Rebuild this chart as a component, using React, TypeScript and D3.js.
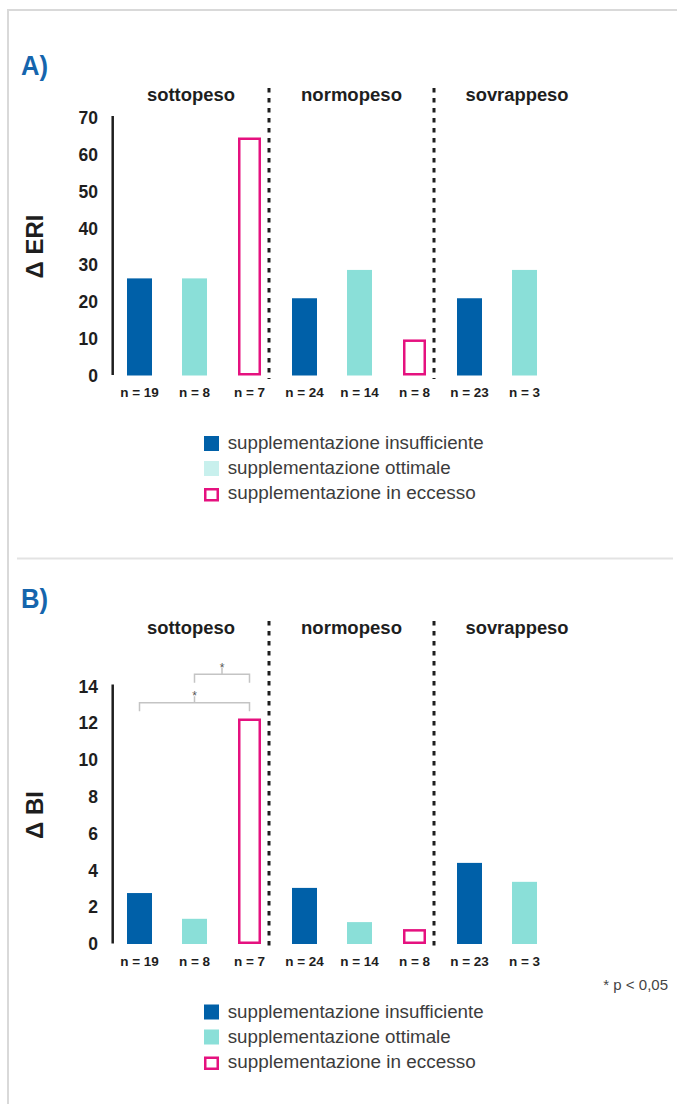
import React from "react";
import * as d3 from "d3";

const groups = ["sottopeso", "normopeso", "sovrappeso"];
const groupWidths = [88, 101, 103];
const barIds = ["s1", "s2", "s3", "n1", "n2", "n3", "o1", "o2"];
const barSeries = [0, 1, 2, 0, 1, 2, 0, 1];
const nLabels = ["n = 19", "n = 8", "n = 7", "n = 24", "n = 14", "n = 8", "n = 23", "n = 3"];
const eriValues = [26.4, 26.4, 64.7, 21.0, 28.7, 9.8, 21.0, 28.7];
const biValues = [2.77, 1.37, 12.26, 3.05, 1.19, 0.81, 4.41, 3.38];
const eriTicks = [0, 10, 20, 30, 40, 50, 60, 70];
const biTicks = [0, 2, 4, 6, 8, 10, 12, 14];
const legendLabels = [
  "supplementazione insufficiente",
  "supplementazione ottimale",
  "supplementazione in eccesso",
];
const legendWidths = [256, 223, 248];
// significance brackets for panel B: [fromBarIndex, toBarIndex]
const biBrackets = [
  [1, 2],
  [0, 2],
];

const BLUE = "#0060a8";
const TEAL = "#8adfd8";
const TEAL_LIGHT = "#c8f0ed";
const PINK = "#e5117f";
const TXT = "#1e1e1e";
const FONT = "'Liberation Sans', Arial, Helvetica, sans-serif";

const x = d3.scalePoint<string>().domain(barIds).range([139.5, 524.5]);
const BW = 25;

type PanelProps = {
  letter: string;
  top: number;
  base: number;
  values: number[];
  ticks: number[];
  yMax: number;
  title: string;
  legendOptColor: string;
  brackets?: number[][];
};

function Panel({ letter, top, base, values, ticks, yMax, title, legendOptColor, brackets }: PanelProps) {
  const y = d3.scaleLinear().domain([0, yMax]).range([375.5 + base, 118 + base]);
  const dash1 = ((x(barIds[2])! + x(barIds[3])!) / 2) - 8;
  const dash2 = ((x(barIds[5])! + x(barIds[6])!) / 2) - 8;
  const bounds = [113, dash1, dash2, 600];
  const fills = [BLUE, TEAL, "none"];
  return (
    <g>
      <text x={21} y={75 + top} fontFamily={FONT} fontWeight="bold" fontSize={28} fill="#1565ad" textLength={27} lengthAdjust="spacingAndGlyphs">
        {letter}
      </text>
      {groups.map((g, i) => (
        <text key={g} x={(bounds[i] + bounds[i + 1]) / 2} y={101 + top} textAnchor="middle" fontFamily={FONT} fontWeight="bold" fontSize={17.5} fill={TXT} textLength={groupWidths[i]} lengthAdjust="spacingAndGlyphs">
          {g}
        </text>
      ))}
      {[dash1, dash2].map((dx, i) => (
        <line key={i} x1={dx} x2={dx} y1={88 + top} y2={379 + base} stroke="#1e1e1e" strokeWidth={3} strokeDasharray="4.5,5.5" />
      ))}
      <line x1={112.7} x2={112.7} y1={116 + base} y2={375 + base} stroke="#1e1e1e" strokeWidth={2.5} />
      {ticks.map((t) => (
        <text key={t} x={98} y={y(t) + 6.2} textAnchor="end" fontFamily={FONT} fontWeight="bold" fontSize={17.5} fill={TXT}>
          {t}
        </text>
      ))}
      <text
        transform={`translate(43,${246.5 + base}) rotate(-90)`}
        textAnchor="middle"
        fontFamily={FONT}
        fontWeight="bold"
        fontSize={24}
        fill={TXT}
      >
        {title}
      </text>
      {values.map((v, i) => {
        const cx = x(barIds[i])!;
        const s = barSeries[i];
        if (s === 2) {
          const sw = 2.5;
          const ow = 23;
          return (
            <rect
              key={i}
              x={cx - ow / 2 + sw / 2}
              y={y(v) + sw / 2}
              width={ow - sw}
              height={y(0) - y(v) - sw}
              fill="none"
              stroke={PINK}
              strokeWidth={sw}
            />
          );
        }
        return <rect key={i} x={cx - BW / 2} y={y(v)} width={BW} height={y(0) - y(v)} fill={fills[s]} />;
      })}
      {nLabels.map((n, i) => (
        <text key={i} x={x(barIds[i])!} y={397 + base} textAnchor="middle" fontFamily={FONT} fontWeight="bold" fontSize={13.5} fill={TXT}>
          {n}
        </text>
      ))}
      {brackets &&
        brackets.map(([a, b], i) => {
          const x1 = x(barIds[a])!;
          const x2 = x(barIds[b])!;
          const yl = i === 0 ? 674.3 : 702.7;
          const mid = (x1 + x2) / 2;
          return (
            <g key={i}>
              <path d={`M${x1},${yl + 8.5}V${yl}H${x2}V${yl + 8.5}M${mid},${yl}V${yl - 6.5}`} fill="none" stroke="#c4c4c4" strokeWidth={1.5} />
              <text x={mid} y={yl - 2.5} textAnchor="middle" fontFamily={FONT} fontSize={12} fill="#555">
                *
              </text>
            </g>
          );
        })}
      {legendLabels.map((l, i) => {
        const by = 449 + base + i * 25;
        return (
          <g key={l}>
            {i < 2 ? (
              <rect x={204} y={by - 13} width={15} height={15} fill={i === 0 ? BLUE : legendOptColor} />
            ) : (
              <rect x={205.25} y={by - 9.75} width={12.5} height={11} fill="none" stroke={PINK} strokeWidth={2.5} />
            )}
            <text x={227.7} y={by} fontFamily={FONT} fontSize={17.5} fill="#3c3c3c" textLength={legendWidths[i]} lengthAdjust="spacingAndGlyphs">
              {l}
            </text>
          </g>
        );
      })}
    </g>
  );
}

export default function App() {
  return (
    <svg width={677} height={1104} style={{ position: "absolute", left: 0, top: 0, background: "#fff" }}>
      <rect x={0} y={0} width={677} height={1104} fill="#fff" />
      <path d="M8,1104V10H677" fill="none" stroke="#d9d9d9" strokeWidth={2} />
      <line x1={17} x2={673} y1={558.5} y2={558.5} stroke="#e3e3e3" strokeWidth={2} />
      <Panel letter="A)" top={0} base={0} values={eriValues} ticks={eriTicks} yMax={70} title="Δ ERI" legendOptColor={TEAL_LIGHT} />
      <Panel letter="B)" top={533} base={568.5} values={biValues} ticks={biTicks} yMax={14} title="Δ BI" legendOptColor={TEAL} brackets={biBrackets} />
      <text x={668} y={990} textAnchor="end" fontFamily={FONT} fontSize={15} fill="#444">
        * p &lt; 0,05
      </text>
    </svg>
  );
}
